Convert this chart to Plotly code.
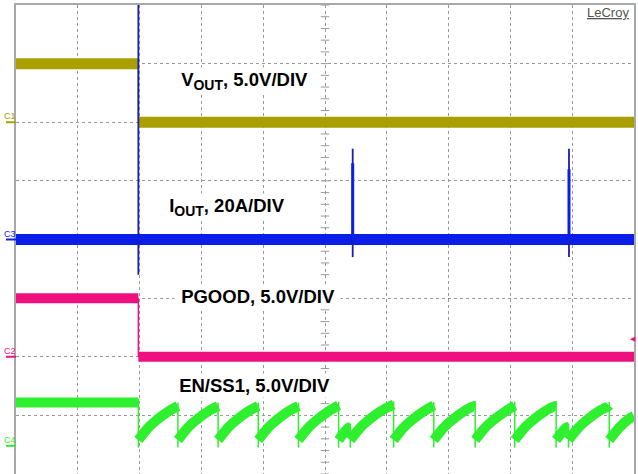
import plotly.graph_objects as go
import numpy as np

# ---------------- data (time in screen divisions, 10 div across) ----------------
T_START, T_END = 0.0, 10.0
T_TRIG = 1.98

# C1: VOUT, 5.0 V/div, ground marker at +2.0 div
VOUT_OFFSET_DIV = 2.0
VOUT_SCALE = 5.0
VOUT_BEFORE = 5.0
VOUT_AFTER = 0.0

# C3: IOUT, 20 A/div, ground marker at 0 div
IOUT_OFFSET_DIV = 0.0
IOUT_SCALE = 20.0
IOUT_BASE = 0.0
IOUT_SPIKE_T = [1.98, 5.448, 8.948]
IOUT_SPIKE_MAX = [90.0, 31.0, 31.0]
IOUT_SPIKE_MIN = [-12.0, -6.0, -6.0]
IOUT_SPIKE_CORE = [0.0, 26.0, 24.0]

# C2: PGOOD, 5.0 V/div, ground marker at -2.0 div
PG_OFFSET_DIV = -2.0
PG_SCALE = 5.0
PG_BEFORE = 5.0
PG_AFTER = 0.0

# C4: EN/SS1, 5.0 V/div, ground marker at -3.52 div
EN_OFFSET_DIV = -3.52
EN_SCALE = 5.0
EN_BEFORE = 3.7
EN_RESET_T = [1.98, 2.62, 3.27, 3.92, 4.57, 5.22, 5.41, 6.11, 6.76, 7.43, 8.07, 8.74, 8.94, 9.60]
EN_TOOTH_END_V = [3.4, 3.4, 3.4, 3.4, 3.45, 1.6, 3.5, 3.45, 3.4, 3.45, 3.4, 1.6, 3.45, 2.55]
EN_RAMP_DT = [0.0, 0.16, 0.32, 0.49, 0.65]
EN_RAMP_V = [0.5, 1.55, 2.3, 2.95, 3.4]
EN_DROP_LOW = -0.15

CHANNELS = ["C1", "C3", "C2", "C4"]
SUB = '<sub><span style="font-size:14px">OUT</span></sub>'
LABELS = ["<b>V" + SUB + ", 5.0V/DIV</b>", "<b>I" + SUB + ", 20A/DIV</b>",
          "<b>PGOOD, 5.0V/DIV</b>", "<b>EN/SS1, 5.0V/DIV</b>"]

# ---------------- styles ----------------
C_VOUT = "#a9a000"
C_IOUT = "#0a1ee8"
C_IOUT_SPIKE = "#1c1cb0"
C_PG = "#ee107f"
C_EN = "#2ef02e"
GRID = "#9a9a9a"
FONT = "Liberation Sans, Arial, sans-serif"


def div(v, off, scale):
    return off + v / scale


fig = go.Figure()

# center-axis minor ticks
fig.add_trace(go.Scatter(x=[5.0] * 41, y=list(np.arange(-4, 4.001, 0.2)), mode="markers",
                         marker=dict(symbol="line-ew", size=6, line=dict(width=1, color=GRID)),
                         hoverinfo="skip", showlegend=False))
fig.add_trace(go.Scatter(x=list(np.arange(0, 10.001, 0.2)), y=[0.0] * 51, mode="markers",
                         marker=dict(symbol="line-ns", size=6, line=dict(width=1, color=GRID)),
                         hoverinfo="skip", showlegend=False))


def step_channel(before, after, off, scale, color, width):
    yb, ya = div(before, off, scale), div(after, off, scale)
    fig.add_trace(go.Scatter(x=[T_START, T_TRIG, None, T_TRIG, T_END], y=[yb, yb, None, ya, ya],
                             mode="lines", line=dict(color=color, width=width),
                             hoverinfo="skip", showlegend=False))
    fig.add_trace(go.Scatter(x=[T_TRIG, T_TRIG], y=[yb, ya], mode="lines",
                             line=dict(color=color, width=1.5), hoverinfo="skip", showlegend=False))


step_channel(VOUT_BEFORE, VOUT_AFTER, VOUT_OFFSET_DIV, VOUT_SCALE, C_VOUT, 11)
step_channel(PG_BEFORE, PG_AFTER, PG_OFFSET_DIV, PG_SCALE, C_PG, 10)

# IOUT band + spikes
yb = div(IOUT_BASE, IOUT_OFFSET_DIV, IOUT_SCALE)
fig.add_trace(go.Scatter(x=[T_START, T_END], y=[yb, yb], mode="lines",
                         line=dict(color=C_IOUT, width=11), hoverinfo="skip", showlegend=False))
sx, sy, cx, cy = [], [], [], []
for t, hi, lo, core in zip(IOUT_SPIKE_T, IOUT_SPIKE_MAX, IOUT_SPIKE_MIN, IOUT_SPIKE_CORE):
    sx += [t, t, None]
    sy += [div(lo, IOUT_OFFSET_DIV, IOUT_SCALE), div(hi, IOUT_OFFSET_DIV, IOUT_SCALE), None]
    cx += [t, t, None]
    cy += [div(IOUT_BASE, IOUT_OFFSET_DIV, IOUT_SCALE), div(core, IOUT_OFFSET_DIV, IOUT_SCALE), None]
fig.add_trace(go.Scatter(x=sx, y=sy, mode="lines", line=dict(color=C_IOUT_SPIKE, width=1.8),
                         hoverinfo="skip", showlegend=False))
fig.add_trace(go.Scatter(x=cx, y=cy, mode="lines", line=dict(color=C_IOUT, width=3),
                         hoverinfo="skip", showlegend=False))

# EN/SS1
ends = EN_RESET_T[1:] + [T_END]
bx, by = [T_START, T_TRIG, None], [div(EN_BEFORE, EN_OFFSET_DIV, EN_SCALE)] * 2 + [None]
dx, dy = [], []
prev_top = EN_BEFORE
for t0, t1, vend in zip(EN_RESET_T, ends, EN_TOOTH_END_V):
    dur = t1 - t0
    for dt, v in zip(EN_RAMP_DT, EN_RAMP_V):
        if dt < dur - 0.005:
            bx.append(t0 + dt)
            by.append(div(v, EN_OFFSET_DIV, EN_SCALE))
    bx += [t1, None]
    by += [div(vend, EN_OFFSET_DIV, EN_SCALE), None]
    dx += [t0, t0, None]
    dy += [div(prev_top + 0.3, EN_OFFSET_DIV, EN_SCALE), div(EN_DROP_LOW, EN_OFFSET_DIV, EN_SCALE), None]
    prev_top = vend
fig.add_trace(go.Scatter(x=bx, y=by, mode="lines", line=dict(color=C_EN, width=10, shape="spline", smoothing=0.8),
                         hoverinfo="skip", showlegend=False))
fig.add_trace(go.Scatter(x=dx, y=dy, mode="lines", line=dict(color=C_EN, width=1.5),
                         hoverinfo="skip", showlegend=False))

# ---------------- annotations ----------------
W_PLOT = 618.0
offsets = [VOUT_OFFSET_DIV, IOUT_OFFSET_DIV, PG_OFFSET_DIV, EN_OFFSET_DIV]
colors = [C_VOUT, C_IOUT, C_PG, C_EN]
annotations = []
shapes = []
for ch, off, col in zip(CHANNELS, offsets, colors):
    annotations.append(dict(text=ch, x=(10 - 16) / W_PLOT, xref="paper", y=off, yref="y",
                            xanchor="center", yanchor="middle", yshift=6, showarrow=False,
                            font=dict(family=FONT, size=9, color=col)))
    shapes.append(dict(type="line", xref="paper", yref="y", x0=(6 - 16) / W_PLOT, x1=0,
                       y0=off, y1=off, line=dict(color=col, width=2)))

label_pos = [(182, 81), (170, 207), (182, 296), (180, 385)]
for (px, py), txt in zip(label_pos, LABELS):
    annotations.append(dict(text="&nbsp;" + txt + "&nbsp;", x=(px - 8 - 16) / W_PLOT, xref="paper",
                            y=1 - (py - 5) / 469.0, yref="paper", xanchor="left", yanchor="middle",
                            showarrow=False, bgcolor="white", borderpad=1,
                            font=dict(family=FONT, size=18.5, color="black")))

annotations.append(dict(text="<u>LeCroy</u>", x=(631 - 16) / W_PLOT, xref="paper",
                        y=1 - (12 - 5) / 469.0, yref="paper", xanchor="right", yanchor="middle",
                        showarrow=False, font=dict(family=FONT, size=13, color="#555555")))
annotations.append(dict(text="◀", x=(638 - 16) / W_PLOT, xref="paper", y=-1.69, yref="y",
                        xanchor="right", yanchor="middle", showarrow=False,
                        font=dict(family=FONT, size=7, color=C_PG)))

axis_common = dict(showticklabels=False, ticks="", zeroline=False, showgrid=True,
                   gridcolor=GRID, griddash="dot", gridwidth=1, dtick=1,
                   showline=True, mirror=True, linecolor="#a8a8a8", linewidth=2, fixedrange=True)

fig.update_layout(
    width=638, height=474, autosize=False,
    margin=dict(l=16, r=4, t=5, b=0),
    paper_bgcolor="white", plot_bgcolor="white",
    xaxis=dict(range=[T_START, T_END], tick0=0, **axis_common),
    yaxis=dict(range=[-4, 4], tick0=-4, **axis_common),
    annotations=annotations, shapes=shapes, showlegend=False,
)

fig.write_html("out.html", config={"displayModeBar": False})

# remove the browser's default page margin so the figure sits at the window origin
with open("out.html", "r", encoding="utf-8") as f:
    html = f.read()
html = html.replace("<head>", "<head><style>html,body{margin:0;padding:0;overflow:hidden;}</style>", 1)
with open("out.html", "w", encoding="utf-8") as f:
    f.write(html)
